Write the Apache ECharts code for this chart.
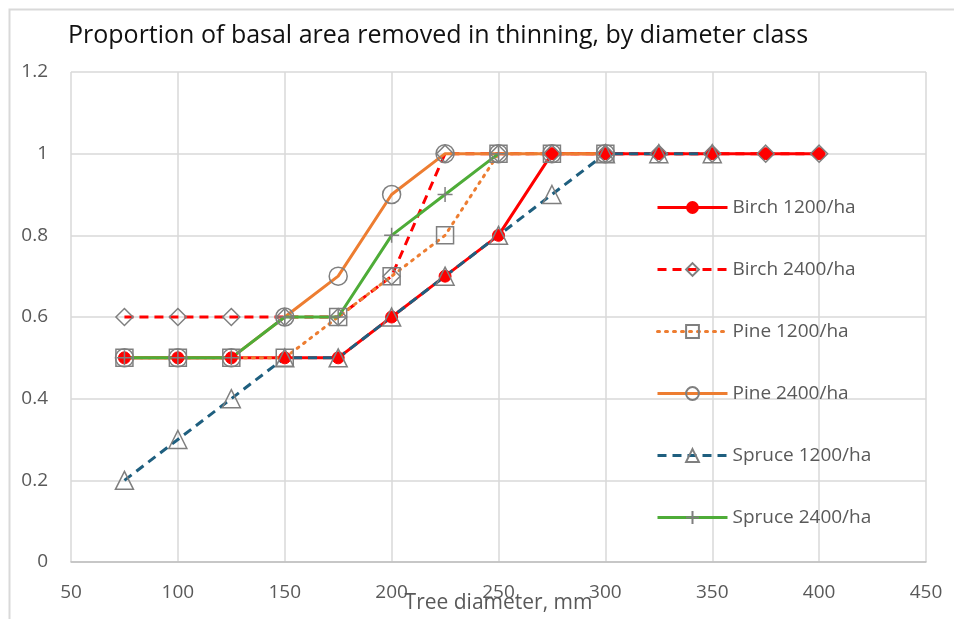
<!DOCTYPE html>
<html>
<head>
<meta charset="utf-8">
<script src="https://cdn.jsdelivr.net/npm/echarts@6/dist/echarts.min.js"></script>
<style>
  html, body { margin: 0; padding: 0; background: #fff; }
  #main { width: 954px; height: 619px; }
</style>
</head>
<body>
<div id="main"></div>
<script>
// 数据
var diameters = [75, 100, 125, 150, 175, 200, 225, 250, 275, 300, 325, 350, 375, 400];
var birch1200 = [0.5, 0.5, 0.5, 0.5, 0.5, 0.6, 0.7, 0.8, 1, 1, 1, 1, 1, 1];
var birch2400 = [0.6, 0.6, 0.6, 0.6, 0.6, 0.7, 1, 1, 1, 1, 1, 1, 1, 1];
var pine1200 = [0.5, 0.5, 0.5, 0.5, 0.6, 0.7, 0.8, 1, 1, 1];
var pine2400 = [0.5, 0.5, 0.5, 0.6, 0.7, 0.9, 1, 1, 1, 1];
var spruce1200 = [0.2, 0.3, 0.4, 0.5, 0.5, 0.6, 0.7, 0.8, 0.9, 1, 1, 1];
var spruce2400 = [0.5, 0.5, 0.5, 0.6, 0.6, 0.8, 0.9, 1];
var seriesNames = ['Birch 1200/ha', 'Birch 2400/ha', 'Pine 1200/ha', 'Pine 2400/ha', 'Spruce 1200/ha', 'Spruce 2400/ha'];
var xTicks = [50, 450, 50];   // min, max, interval
var yTicks = [0, 1.2, 0.2];

function pairs(vals) {
    return vals.map(function (v, i) { return [diameters[i], v]; });
}

var gray = '#7f7f7f';
var font = '"Open Sans", Lato, sans-serif';
var hollow = { color: 'rgba(255,255,255,0)', borderColor: gray, borderWidth: 1.5 };

var myChart = echarts.init(document.getElementById('main'));
var option = {
    animation: false,
    graphic: [{
        type: 'rect', left: 7, top: 7, silent: true,
        shape: { width: 1000, height: 1000 },
        style: { fill: 'none', stroke: '#d9d9d9', lineWidth: 2 }
    }],
    title: {
        text: 'Proportion of basal area removed in thinning, by diameter class',
        left: 63, top: 18,
        textStyle: { fontFamily: font, fontSize: 25, fontWeight: 'normal', color: '#111' }
    },
    legend: {
        orient: 'vertical',
        left: 651, top: 193,
        itemWidth: 70, itemHeight: 16, itemGap: 43,
        lineStyle: { width: 3 },
        textStyle: { fontFamily: font, fontSize: 19, color: '#595959', lineHeight: 16 },
        data: seriesNames.map(function (n) { return { name: n, lineStyle: { width: 3 } }; })
    },
    grid: { left: 71, right: 28, top: 72, bottom: 57, outerBoundsMode: 'none' },
    xAxis: {
        type: 'value',
        min: xTicks[0], max: xTicks[1], interval: xTicks[2],
        name: 'Tree diameter, mm',
        nameLocation: 'middle', nameGap: 31, nameMoveOverlap: false,
        nameTextStyle: { fontFamily: font, fontSize: 21, color: '#595959' },
        axisLine: { lineStyle: { color: '#bfbfbf', width: 1.5 } },
        axisTick: { show: false },
        axisLabel: { fontFamily: font, fontSize: 19, color: '#595959', margin: 21 },
        splitLine: { lineStyle: { color: '#d9d9d9', width: 1.5 } }
    },
    yAxis: {
        type: 'value',
        min: yTicks[0], max: yTicks[1], interval: yTicks[2],
        axisLine: { show: false },
        axisTick: { show: false },
        axisLabel: { fontFamily: font, fontSize: 19, color: '#595959', margin: 23 },
        splitLine: { lineStyle: { color: '#d9d9d9', width: 1.5 } }
    },
    series: [{
        name: seriesNames[0], type: 'line', data: pairs(birch1200),
        symbol: 'circle', symbolSize: 12,
        lineStyle: { color: '#ff0000', width: 3 },
        itemStyle: { color: '#ff0000', borderColor: '#ff0000' }
    }, {
        name: seriesNames[1], type: 'line', data: pairs(birch2400),
        symbol: 'diamond', symbolSize: 17,
        lineStyle: { color: '#ff0000', width: 3, type: [9, 6] },
        itemStyle: hollow
    }, {
        name: seriesNames[2], type: 'line', data: pairs(pine1200),
        symbol: 'rect', symbolSize: 17,
        lineStyle: { color: '#ed7d31', width: 3, type: [2, 6], cap: 'round' },
        itemStyle: hollow
    }, {
        name: seriesNames[3], type: 'line', data: pairs(pine2400),
        symbol: 'circle', symbolSize: 18,
        lineStyle: { color: '#ed7d31', width: 3 },
        itemStyle: hollow
    }, {
        name: seriesNames[4], type: 'line', data: pairs(spruce1200),
        symbol: 'triangle', symbolSize: 18,
        lineStyle: { color: '#1f5f7f', width: 3, type: [9, 6] },
        itemStyle: hollow
    }, {
        name: seriesNames[5], type: 'line', data: pairs(spruce2400),
        symbol: 'path://M0,5 L10,5 M5,0 L5,10', symbolSize: 15,
        lineStyle: { color: '#4eac38', width: 3 },
        itemStyle: { color: 'rgba(255,255,255,0)', borderColor: gray, borderWidth: 1.5 }
    }]
};
myChart.setOption(option);
</script>
</body>
</html>
